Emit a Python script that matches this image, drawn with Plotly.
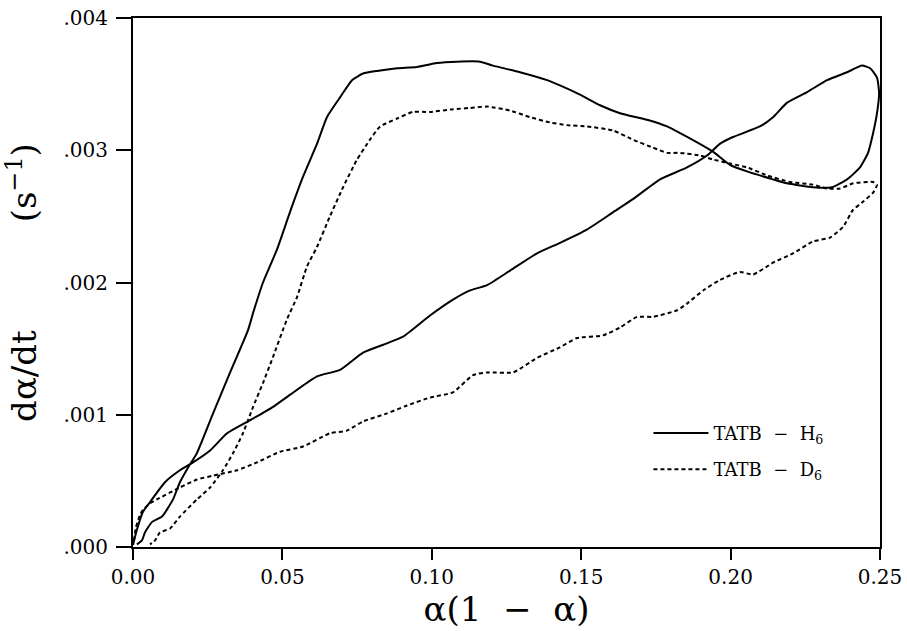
import plotly.graph_objects as go

# TATB-H6 (solid): lower branch (alpha<0.5) then upper branch back to origin
h6_x = [0.0, 0.0013, 0.0033, 0.0057, 0.0107, 0.0157, 0.0201, 0.0258, 0.0315, 0.0385,
        0.0469, 0.0525, 0.0616, 0.0693, 0.0770, 0.0850, 0.0904, 0.0994, 0.1071, 0.1128,
        0.1185, 0.1262, 0.1352, 0.1429, 0.1519, 0.1606, 0.1673, 0.1764, 0.1854, 0.1921,
        0.1965, 0.2008, 0.2098, 0.2142, 0.2189, 0.2256, 0.2323, 0.2390, 0.2440, 0.2467,
        0.2490, 0.2497,
        0.2490, 0.2477, 0.2460, 0.2433, 0.2390, 0.2339, 0.2276, 0.2189, 0.2142, 0.2055,
        0.1998, 0.1941, 0.1888, 0.1831, 0.1787, 0.1720, 0.1630, 0.1563, 0.1496, 0.1429,
        0.1386, 0.1295, 0.1205, 0.1161, 0.1084, 0.1017, 0.0950, 0.0884, 0.0817, 0.0770,
        0.0733, 0.0693, 0.0649, 0.0616, 0.0569, 0.0525, 0.0482, 0.0435, 0.0402, 0.0385,
        0.0325, 0.0268, 0.0214, 0.0184, 0.0157, 0.0134, 0.0097, 0.0064, 0.0040, 0.0030,
        0.0013]
h6_y = [0.000015, 0.00013, 0.000265, 0.00034, 0.00049, 0.00058, 0.00064, 0.00073, 0.00086, 0.00095,
        0.00106, 0.00115, 0.00129, 0.00134, 0.00147, 0.00154, 0.00159, 0.00175, 0.00187, 0.00194,
        0.00198, 0.00209, 0.00222, 0.00230, 0.00240, 0.00253, 0.00263, 0.00278, 0.00287, 0.00296,
        0.00305, 0.00310, 0.00318, 0.00325, 0.00336, 0.00344, 0.00353, 0.00359, 0.00364, 0.00362,
        0.00355, 0.00343,
        0.00328, 0.00313, 0.00298, 0.00287, 0.00278, 0.00272, 0.00272, 0.00275, 0.00278, 0.00284,
        0.00289, 0.00299, 0.00306, 0.00313, 0.00318, 0.00323, 0.00328, 0.00334, 0.00342, 0.00349,
        0.00353, 0.00359, 0.00364, 0.00367, 0.00367, 0.00366, 0.00363, 0.00362, 0.00360, 0.00358,
        0.00353, 0.00340, 0.00325, 0.00305, 0.00280, 0.00253, 0.00225, 0.00200, 0.00177, 0.00164,
        0.00132, 0.00101, 0.00071, 0.00060, 0.00049, 0.00036, 0.00023, 0.00019, 0.00011, 0.00005,
        0.00002]

# TATB-D6 (dashed)
d6_x = [0.0003, 0.0010, 0.0023, 0.0033, 0.0057, 0.0080, 0.0157, 0.0214, 0.0268, 0.0348,
        0.0415, 0.0492, 0.0569, 0.0659, 0.0716, 0.0770, 0.0850, 0.0917, 0.0994, 0.1071,
        0.1138, 0.1185, 0.1272, 0.1352, 0.1429, 0.1486, 0.1573, 0.1630, 0.1687, 0.1740,
        0.1821, 0.1854, 0.1908, 0.1965, 0.2031, 0.2075, 0.2142, 0.2209, 0.2276, 0.2333,
        0.2376, 0.2410, 0.2443, 0.2477, 0.2490,
        0.2477, 0.2410, 0.2366, 0.2323, 0.2276, 0.2199, 0.2122, 0.2055, 0.1998, 0.1941,
        0.1898, 0.1831, 0.1787, 0.1740, 0.1673, 0.1606, 0.1519, 0.1452, 0.1396, 0.1329,
        0.1262, 0.1185, 0.1128, 0.1071, 0.0994, 0.0937, 0.0884, 0.0827, 0.0793, 0.0750,
        0.0703, 0.0659, 0.0616, 0.0582, 0.0549, 0.0515, 0.0469, 0.0435, 0.0402, 0.0368,
        0.0335, 0.0301, 0.0258, 0.0214, 0.0157, 0.0124, 0.0090, 0.0074, 0.0057]
d6_y = [0.00005, 0.00015, 0.00024, 0.00028, 0.00033, 0.00036, 0.00045, 0.00051, 0.00054, 0.00058,
        0.00064, 0.00072, 0.00076, 0.00086, 0.00088, 0.00095, 0.00101, 0.00107, 0.00113, 0.00117,
        0.00130, 0.00132, 0.00132, 0.00143, 0.00151, 0.00158, 0.00160, 0.00166, 0.00174, 0.00174,
        0.00179, 0.00184, 0.00194, 0.00202, 0.00208, 0.00206, 0.00215, 0.00222, 0.00231, 0.00234,
        0.00242, 0.00255, 0.00261, 0.00268, 0.00274,
        0.00276, 0.00275, 0.00271, 0.00271, 0.00274, 0.00276, 0.00281, 0.00287, 0.00290, 0.00293,
        0.00296, 0.00298, 0.00298, 0.00302, 0.00308, 0.00315, 0.00318, 0.00319, 0.00321, 0.00325,
        0.00330, 0.00333, 0.00332, 0.00331, 0.00329, 0.00329, 0.00324, 0.00318, 0.00308, 0.00293,
        0.00272, 0.00250, 0.00227, 0.00212, 0.00189, 0.00172, 0.00144, 0.00124, 0.00106, 0.00086,
        0.00071, 0.00058, 0.00045, 0.00036, 0.00023, 0.00014, 0.00011, 0.00005, 0.00002]

x_ticks = [0.0, 0.05, 0.10, 0.15, 0.20, 0.25]
x_labels = ["0.00", "0.05", "0.10", "0.15", "0.20", "0.25"]
y_ticks = [0.0, 0.001, 0.002, 0.003, 0.004]
y_labels = [".000", ".001", ".002", ".003", ".004"]

FONT = "DejaVu Serif"
NB = "\u00a0"

fig = go.Figure()
fig.add_trace(go.Scatter(x=h6_x, y=h6_y, mode="lines", name="TATB" + NB*2 + "\u2212" + NB*2 + "H<sub>6</sub>",
                         legendgroup="h6",
                         line=dict(color="black", width=2, shape="spline", smoothing=0.5)))
fig.add_trace(go.Scatter(x=d6_x, y=d6_y, mode="lines", name="TATB" + NB*2 + "\u2212" + NB*2 + "D<sub>6</sub>",
                         legendgroup="d6",
                         line=dict(color="black", width=2, dash="4px,3px", shape="spline", smoothing=0.5)))

axis_common = dict(showline=True, linecolor="black", linewidth=2, mirror=True,
                   showgrid=False, zeroline=False, ticks="outside", tickcolor="black",
                   tickwidth=2, ticklabeloverflow="allow",
                   tickfont=dict(family=FONT, size=20, color="black"))

fig.update_layout(
    width=907, height=631,
    margin=dict(l=133, r=27, t=18, b=84),
    paper_bgcolor="white", plot_bgcolor="white",
    showlegend=True,
    legend=dict(x=0.69, y=0.25, xanchor="left", yanchor="top",
                font=dict(family=FONT, size=18, color="black"),
                bgcolor="rgba(0,0,0,0)", itemwidth=55, tracegroupgap=10,
                traceorder="grouped"),
    xaxis=dict(range=[0, 0.25], tickvals=x_ticks, ticktext=x_labels, ticklen=11,
               title=dict(text="\u03b1(1" + NB*2 + "\u2212" + NB*2 + "\u03b1)",
                          font=dict(family=FONT, size=34, color="black"), standoff=0),
               **axis_common),
    yaxis=dict(range=[0, 0.004], tickvals=y_ticks, ticktext=y_labels, ticklen=15,
               ticklabelstandoff=4,
               title=dict(text="d\u03b1/dt" + NB*10 + "(s<sup>\u22121</sup>)",
                          font=dict(family=FONT, size=34, color="black"), standoff=28),
               **axis_common),
)
fig.update_xaxes(automargin=False)
fig.update_yaxes(automargin=False)

# remove the default 8px page margin so the figure sits at the window's top-left corner
fig.write_html("out.html", config={"displayModeBar": False},
               post_script="document.body.style.margin='0';")
